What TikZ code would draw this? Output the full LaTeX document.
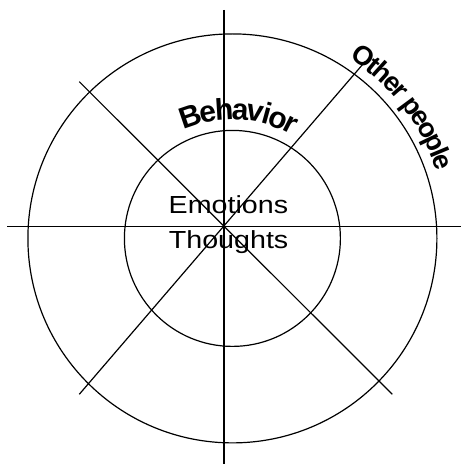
\documentclass[tikz,border=0pt]{standalone}
\usepackage{fontspec}
\setmainfont{Liberation Sans}
\usetikzlibrary{decorations.text}
\tikzset{
  ring/.style={draw=black, line width=1.2pt},
  spoke/.style={draw=black, line width=1.2pt},
  centertext/.style={font=\fontsize{24.7}{24.7}\selectfont, inner sep=0pt, anchor=base}
}
\begin{document}
\begin{tikzpicture}[x=1pt,y=1pt]
\useasboundingbox (0,0) rectangle (461,464);
% centres
\coordinate (C) at (232.4,225.6);
% spoke end points
\coordinate (vt) at (224,454);
\coordinate (vb) at (224,0);
\coordinate (hl) at (7.3,237.3);
\coordinate (hr) at (461,237.3);
\coordinate (nw) at (79.3,382.3);
\coordinate (se) at (392.3,69.7);
\coordinate (sw) at (79.3,69.7);
\coordinate (ne) at (365,402.3);
% circles
\draw[ring] (C) circle[radius=204.5];
\draw[ring] (C) circle[radius=108];
% spokes
\draw[spoke] (vt) -- (vb);
\draw[spoke] (hl) -- (hr);
\draw[spoke] (nw) -- (se);
\draw[spoke] (sw) -- (ne);
% centre texts
\node[centertext] (emo) at (228.4,250) {\scalebox{1.16}[1]{Emotions}};
\node[centertext] (tho) at (228.6,215.7) {\scalebox{1.16}[1]{Thoughts}};
% curved labels
\path[decorate, decoration={text effects along path, text={Behavior},
  text effects/.cd, text along path, fit text to path,
  characters={font=\bfseries\fontsize{30}{30}\selectfont}}]
  (C) ++(114:119) arc[start angle=114, end angle=60, radius=119];
\path[decorate, decoration={text effects along path, text={Other people},
  text effects/.cd, text along path, fit text to path,
  characters={font=\bfseries\fontsize{27}{27}\selectfont}}]
  (C) ++(57:215) arc[start angle=57, end angle=18, radius=215];
\end{tikzpicture}
\end{document}
